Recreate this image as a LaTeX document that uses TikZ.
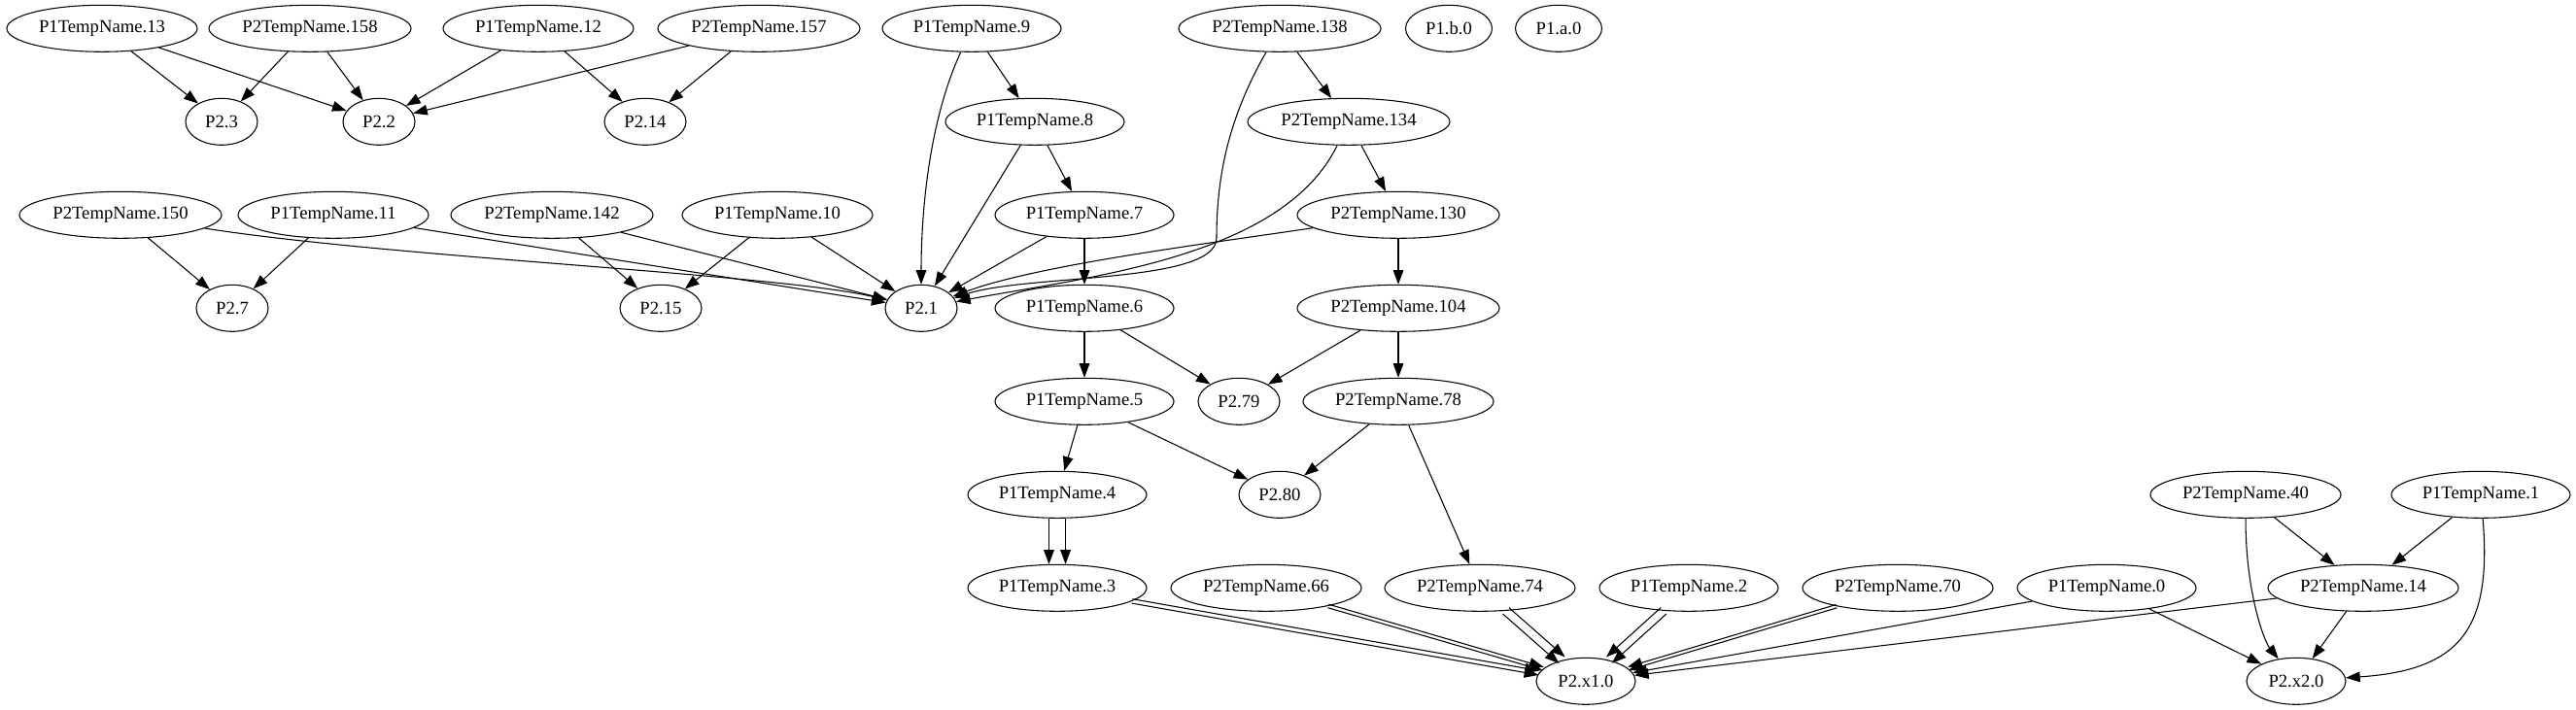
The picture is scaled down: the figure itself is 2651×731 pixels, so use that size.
\documentclass[tikz,border=0pt]{standalone}
\usepackage{fontspec}
\setmainfont{Liberation Serif}
\usetikzlibrary{shapes.geometric,arrows.meta}
\begin{document}
\begin{tikzpicture}[x=0.75pt,y=-0.75pt]
\tikzset{
  nd/.style={draw, ellipse, line width=0.8pt, inner sep=0pt, minimum height=36pt, font=\fontsize{14}{16}\selectfont},
  wa/.style={nd, minimum width=138pt},
  wb/.style={nd, minimum width=147pt},
  wc/.style={nd, minimum width=156pt},
  wd/.style={nd, minimum width=55.5pt},
  we/.style={nd, minimum width=63pt},
  wf/.style={nd, minimum width=76.5pt},
  wg/.style={nd, minimum width=66.75pt},
  edge/.style={draw, line width=0.8pt, -{Triangle[length=11pt,width=8pt]}}
}
\useasboundingbox (0,0) rectangle (2651,731);
\def\ra{29.3}\def\rb{125.3}\def\rc{221.3}\def\rd{317.3}
\def\re{413.3}\def\rf{509.3}\def\rg{605.3}\def\rh{701.3}
% row 0
\node[wb] (p13)  at (105,\ra)  {P1TempName.13};
\node[wc] (q158) at (319,\ra)  {P2TempName.158};
\node[wb] (p12)  at (554,\ra)  {P1TempName.12};
\node[wc] (q157) at (781,\ra)  {P2TempName.157};
\node[wa] (p9)   at (1000,\ra) {P1TempName.9};
\node[wc] (q138) at (1317,\ra) {P2TempName.138};
\node[wg] (b0)   at (1491,\ra) {P1.b.0};
\node[wg] (a0)   at (1604,\ra) {P1.a.0};
% row 1
\node[wd] (r3)   at (228,\rb)  {P2.3};
\node[wd] (r2)   at (390,\rb)  {P2.2};
\node[we] (r14)  at (664,\rb)  {P2.14};
\node[wa] (p8)   at (1065,\rb) {P1TempName.8};
\node[wc] (q134) at (1388,\rb) {P2TempName.134};
% row 2
\node[wc] (q150) at (124,\rc)  {P2TempName.150};
\node[wb] (p11)  at (343,\rc)  {P1TempName.11};
\node[wc] (q142) at (568,\rc)  {P2TempName.142};
\node[wb] (p10)  at (800,\rc)  {P1TempName.10};
\node[wa] (p7)   at (1116,\rc) {P1TempName.7};
\node[wc] (q130) at (1439,\rc) {P2TempName.130};
% row 3
\node[wd] (r7)   at (239,\rd)  {P2.7};
\node[we] (r15)  at (680,\rd)  {P2.15};
\node[wd] (r1)   at (948,\rd)  {P2.1};
\node[wa] (p6)   at (1116,\rd) {P1TempName.6};
\node[wc] (q104) at (1439,\rd) {P2TempName.104};
% row 4
\node[wa] (p5)   at (1116,\re) {P1TempName.5};
\node[we] (r79)  at (1275,\re) {P2.79};
\node[wb] (q78)  at (1439,\re) {P2TempName.78};
% row 5
\node[wa] (p4)   at (1088,\rf) {P1TempName.4};
\node[we] (r80)  at (1317,\rf) {P2.80};
\node[wb] (q40)  at (2311,\rf) {P2TempName.40};
\node[wa] (p1)   at (2553,\rf) {P1TempName.1};
% row 6
\node[wa] (p3)   at (1088,\rg) {P1TempName.3};
\node[wb] (q66)  at (1303,\rg) {P2TempName.66};
\node[wb] (q74)  at (1523,\rg) {P2TempName.74};
\node[wa] (p2)   at (1738,\rg) {P1TempName.2};
\node[wb] (q70)  at (1953,\rg) {P2TempName.70};
\node[wa] (p0)   at (2168,\rg) {P1TempName.0};
\node[wb] (q14)  at (2432,\rg) {P2TempName.14};
% row 7
\node[wf] (x1)   at (1632,\rh) {P2.x1.0};
\node[wf] (x2)   at (2363,\rh) {P2.x2.0};

% straight edges
\foreach \a/\b in {p13/r3,p13/r2,q158/r3,q158/r2,p12/r2,p12/r14,q157/r2,q157/r14,
  p9/p8,q138/q134,p8/p7,p8/r1,q134/q130,
  q150/r7,p11/r7,p11/r1,q142/r15,q142/r1,p10/r15,p10/r1,p7/r1,p7/p6,q130/q104,
  p6/p5,p6/r79,q104/r79,q104/q78,
  p5/p4,p5/r80,q78/r80,q78/q74,
  q40/q14,p1/q14,p0/x1,p0/x2,q14/x1,q14/x2}
  \draw[edge] (\a) -- (\b);

% curved edges
\draw[edge] (p9) .. controls (958,120) and (948,210) .. (r1);
\draw[edge] (q138) .. controls (1265,120) and (1252,180) .. (1252,245)
                   .. controls (1252,292) and (1060,282) .. (r1);
\draw[edge] (q134) .. controls (1320,265) and (1120,285) .. (r1);
\draw[edge] (q130) .. controls (1250,250) and (1070,272) .. (r1);
\draw[edge] (q150) .. controls (400,265) and (800,282) .. (r1);
\draw[edge] (q40) .. controls (2311,610) and (2330,660) .. (x2);
\draw[edge] (p1) .. controls (2565,650) and (2530,690) .. (x2);

% multi-edges
\draw[edge, transform canvas={shift={(-6.4pt,0pt)}}] (p4) -- (p3);
\draw[edge, transform canvas={shift={(6.4pt,0pt)}}] (p4) -- (p3);
\draw[edge, transform canvas={shift={(-0.29pt,-1.63pt)}}] (p3) -- (x1);
\draw[edge, transform canvas={shift={(0.29pt,1.63pt)}}] (p3) -- (x1);
\draw[edge, transform canvas={shift={(-0.38pt,-1.29pt)}}] (q66) -- (x1);
\draw[edge, transform canvas={shift={(0.38pt,1.29pt)}}] (q66) -- (x1);
\draw[edge, transform canvas={shift={(-2.31pt,-2.46pt)}}] (q74) -- (x1);
\draw[edge, transform canvas={shift={(2.31pt,2.46pt)}}] (q74) -- (x1);
\draw[edge, transform canvas={shift={(-2.15pt,2.41pt)}}] (p2) -- (x1);
\draw[edge, transform canvas={shift={(2.15pt,-2.41pt)}}] (p2) -- (x1);
\draw[edge, transform canvas={shift={(-0.37pt,1.22pt)}}] (q70) -- (x1);
\draw[edge, transform canvas={shift={(0.37pt,-1.22pt)}}] (q70) -- (x1);
\end{tikzpicture}
\end{document}
